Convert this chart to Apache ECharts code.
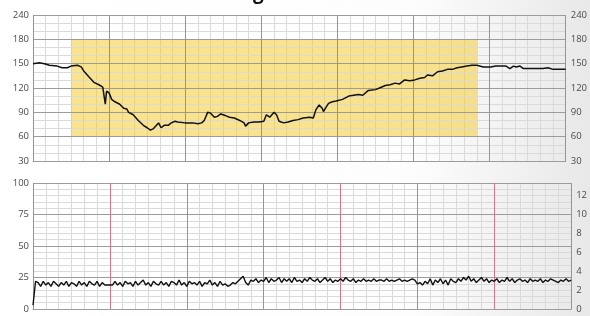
<!DOCTYPE html>
<html>
<head>
<meta charset="utf-8">
<script src="https://cdn.jsdelivr.net/npm/echarts@6/dist/echarts.min.js"></script>
<style>
html,body{margin:0;padding:0;}
#chart{width:590px;height:316px;}
</style>
</head>
<body>
<div id="chart"></div>
<script>
// ---- Data ----
const titleText = 'Prolonged deceleration';
// FHR trace: time (s), bpm
const fhrTimes = [0,5,9,13,19,23,27,30,35,38,40,44,48,52,55,56.4,57,57.5,58,58.7,60,62,64.6,66,68.4,71.5,74,75.4,79,83,87,90,92.6,95,96.4,99,101,103.4,106.6,109,112,114,120,126,130,133,135,137.7,140,143,145.4,148,151.7,155,158.7,163,166.4,167.6,169,170,174,178,182,184,186.7,190,192,194,197.6,201,205,209,213,218,221,223,225.6,228,229,231,233,236,239,244,249,252.8,256.7,260,264.4,270,274.6,277.7,281.6,285.4,289,293,297,301,305,308.8,311,315,319,322.8,326.7,330.6,334.4,338,342,346,350,355,361,364.8,369,373,376,378.8,381,384,386.6,392,398,402,406,410,414.7,420];
const fhrValues = [150,151,150,148,147,145,145,147,148,146,141,134,127,124,121,119,100,99,116,118,114,106,103,101,100,95,94,90,87,80,74,71,68,70,72,77,71,74,74,77,79,78,77,77,76,77,80,90,89,84,85,88,86,84,83,80,77,73,75,77,78,78,79,87,84,90,87,79,77,78,80,81,83,84,83,93,99,95,91,96,101,103,104,106,110,111,112,111,117,118,121,123,124,126,125,130,129,130,132,133,136,135,140,141,143,143,145,146,147,148,148,146,146,147,147,147,144,147,146,147,144,144,144,144,145,143,143,143];
// Uterine activity (mmHg), one sample every 2 s from t = 0
const tocoStepSec = 2;
const tocoValues = [
 3,22,21,18,22,19,21,18,22,20,
 18,21,19,22,18,21,20,18,22,19,
 21,18,22,20,19,22,18,21,19,19,
 19,19,22,19,21,18,22,20,21,18,
 22,19,21,23,19,21,18,22,20,19,
 22,19,21,18,22,21,19,23,19,21,
 18,22,20,21,19,22,18,21,20,23,
 19,21,18,22,19,20,18,19,21,20,
 22,24,26,21,19,23,22,24,21,23,
 22,25,21,24,22,23,25,21,24,22,
 24,21,25,22,23,21,24,22,25,23,
 22,24,21,23,25,22,24,21,23,22,
 24,22,25,23,22,24,21,23,22,24,
 22,23,22,24,22,23,23,22,24,22,
 23,22,23,24,22,23,22,23,24,23,
 20,21,19,22,20,24,19,23,21,24,
 20,23,19,24,22,21,24,22,25,23,
 26,22,24,21,23,25,22,24,21,23,
 22,24,21,23,22,25,22,24,21,23,
 24,22,23,21,24,22,23,22,24,21,
 23,22,24,23,22,21,23,22,24,22,
 23
];
// Highlighted region (time s / bpm)
const bandStart = 30, bandEnd = 350, bandLow = 60, bandHigh = 180;
// Tick labels
const fhrTickLabels = ['30','60','90','120','150','180','240'];
const tocoMax = 100;          // mmHg
const kPaPerMmHg = 0.133322;  // unit conversion for right axis

// FHR scale is compressed above 180 (180..240 drawn in one 30-step)
function fhrToAxis(v){ return v <= 180 ? v : 180 + (v - 180) / 2; }

const fhrData = fhrTimes.map((t,i)=>[t, fhrToAxis(fhrValues[i])]);
const tocoData = tocoValues.map((v,i)=>[i*tocoStepSec, v]);

// ---- Styles ----
const RED = '#d27888';
const MAJOR = '#9c9c9c';
const MINOR = '#dadada';
const LABEL = { color:'#4a4a4a', fontSize:9.5, fontFamily:'Open Sans' };

// two x axes per grid: fine gray 10-s lines, and red 1-min lines on top
function xMinorFor(gi){
  return {
    type:'value', gridIndex:gi, min:0, max:420, interval:10, position:'bottom',
    axisLabel:{show:false}, axisTick:{show:false},
    axisLine:{show:true, lineStyle:{color:MAJOR, width:1}},
    splitLine:{show:true, lineStyle:{color:MINOR, width:1}}
  };
}
function xMajorFor(gi){
  return {
    type:'value', gridIndex:gi, min:0, max:420, interval:60, position:'top',
    axisLabel:{show:false}, axisTick:{show:false}, axisLine:{show:false},
    splitLine:{show:true, lineStyle:{color:RED, width:1}}, z:3
  };
}

const chart = echarts.init(document.getElementById('chart'));
chart.setOption({
  animation:false,
  backgroundColor:{type:'linear', x:0, y:0, x2:1, y2:0, colorStops:[
    {offset:0, color:'#ffffff'},{offset:0.7, color:'#fdfdfd'},{offset:1, color:'#e8e8e8'}]},
  graphic:[{type:'text', x:301, y:-16, z:10,
    style:{text:titleText, textAlign:'center', fill:'#111', font:'bold 19px "Open Sans"'}}],
  grid:[
    {left:33, width:539, top:15, height:146},
    {left:33, width:539, top:183, height:126}
  ],
  xAxis:[xMinorFor(0), xMajorFor(0), xMinorFor(1), xMajorFor(1)],
  yAxis:[
    {type:'value', gridIndex:0, min:30, max:210, interval:30, position:'left',
     axisLine:{show:false}, axisTick:{show:false}, z:2,
     axisLabel:Object.assign({margin:4, formatter:(v)=>fhrTickLabels[Math.round((v-30)/30)]}, LABEL),
     splitLine:{show:true, lineStyle:{color:MAJOR, width:1}},
     minorTick:{show:false, splitNumber:3},
     minorSplitLine:{show:true, lineStyle:{color:MINOR, width:1}}},
    {type:'value', gridIndex:0, min:30, max:210, interval:30, position:'right',
     axisLine:{show:false}, axisTick:{show:false},
     axisLabel:Object.assign({margin:5, formatter:(v)=>fhrTickLabels[Math.round((v-30)/30)]}, LABEL),
     splitLine:{show:false}},
    {type:'value', gridIndex:1, min:0, max:tocoMax, interval:25, position:'left',
     axisLine:{show:false}, axisTick:{show:false}, z:2,
     axisLabel:Object.assign({margin:4}, LABEL),
     splitLine:{show:true, lineStyle:{color:MAJOR, width:1}},
     minorTick:{show:false, splitNumber:5},
     minorSplitLine:{show:true, lineStyle:{color:MINOR, width:1}}},
    {type:'value', gridIndex:1, min:0, max:tocoMax*kPaPerMmHg, interval:2, position:'right',
     axisLine:{show:false}, axisTick:{show:false},
     axisLabel:Object.assign({margin:5, showMaxLabel:false,
       formatter:(v)=> (Math.abs(v-Math.round(v))<1e-6 ? String(Math.round(v)) : '')}, LABEL),
     splitLine:{show:false}}
  ],
  series:[
    {type:'line', xAxisIndex:0, yAxisIndex:0, data:fhrData, symbol:'none',
     lineStyle:{color:'#111', width:1.5}, z:5,
     markArea:{silent:true, itemStyle:{color:'rgba(246,204,50,0.55)'},
       data:[[{xAxis:bandStart, yAxis:bandLow},{xAxis:bandEnd, yAxis:bandHigh}]]}},
    {type:'line', xAxisIndex:2, yAxisIndex:2, data:tocoData, symbol:'none',
     lineStyle:{color:'#111', width:1.4}, z:5}
  ]
});
</script>
</body>
</html>
